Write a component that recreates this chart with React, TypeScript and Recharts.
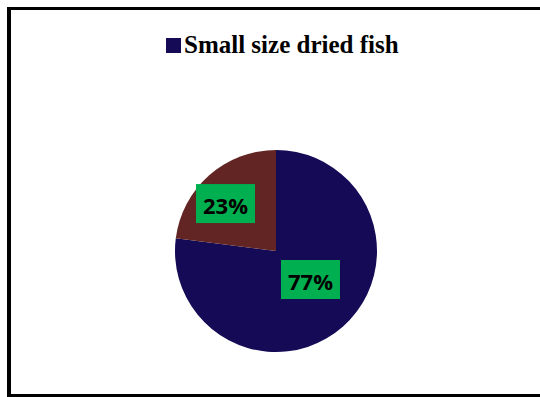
import React from "react";
import { PieChart, Pie, Cell, Legend } from "recharts";

const categories = ["Small size dried fish", "Others"];
const values = [77, 23];
const colors = ["#140A55", "#632523"];
const labelRadiusFactors = [0.443, 0.686];
const labelAngleOffsets = [9, 5.4];

const data = categories.map((name, i) => ({ name, value: values[i] }));

const RADIAN = Math.PI / 180;

const renderLabel = (props: any) => {
  const { cx, cy, midAngle, outerRadius, index } = props;
  const r = outerRadius * labelRadiusFactors[index];
  const a = (midAngle + labelAngleOffsets[index]) * RADIAN;
  const x = cx + r * Math.cos(-a);
  const y = cy + r * Math.sin(-a);
  const w = 59;
  const h = 39;
  return (
    <g>
      <rect x={x - w / 2} y={y - h / 2} width={w} height={h} fill="#00B050" />
      <text
        x={x}
        y={y + 1}
        textAnchor="middle"
        dominantBaseline="central"
        fontFamily="'Open Sans', sans-serif"
        fontWeight="bold"
        fontSize={22}
        fill="#000000"
      >
        {`${values[index]}%`}
      </text>
    </g>
  );
};

const renderLegend = (props: any) => {
  const payload = props.payload || [];
  const first = payload.find((p: any) => p.value === categories[0]) || payload[0];
  if (!first) return null;
  return (
    <div style={{ display: "flex", alignItems: "center", paddingLeft: 166, height: 28 }}>
      <div style={{ width: 15, height: 15, background: colors[0], marginRight: 3 }} />
      <span
        style={{
          fontFamily: "'Liberation Serif', 'Times New Roman', serif",
          fontWeight: "bold",
          fontSize: 25,
          color: "#000",
          lineHeight: "28px",
        }}
      >
        {first.value}
      </span>
    </div>
  );
};

const line = (s: React.CSSProperties): React.CSSProperties => ({
  position: "absolute",
  background: "#000",
  ...s,
});

export default function App() {
  return (
    <div
      style={{
        position: "absolute",
        left: 0,
        top: 0,
        width: 540,
        height: 397,
        overflow: "hidden",
        background: "#fff",
      }}
    >
      <div style={line({ left: 7, top: 7, width: 533, height: 3 })} />
      <div style={line({ left: 7, top: 7, width: 4, height: 390 })} />
      <div style={line({ left: 7, top: 394, width: 533, height: 3 })} />
      <div style={{ position: "absolute", left: 0, top: 0 }}>
        <PieChart width={540} height={397} margin={{ top: 0, right: 0, bottom: 0, left: 0 }}>
          <Legend
            verticalAlign="top"
            align="left"
            content={renderLegend}
            wrapperStyle={{ top: 31, left: 0, width: 540 }}
          />
          <Pie
            data={data}
            dataKey="value"
            nameKey="name"
            cx={276}
            cy={223}
            outerRadius={101}
            startAngle={90}
            endAngle={-270}
            stroke="none"
            label={renderLabel}
            labelLine={false}
            isAnimationActive={false}
          >
            {data.map((d, i) => (
              <Cell key={d.name} fill={colors[i]} />
            ))}
          </Pie>
        </PieChart>
      </div>
    </div>
  );
}
